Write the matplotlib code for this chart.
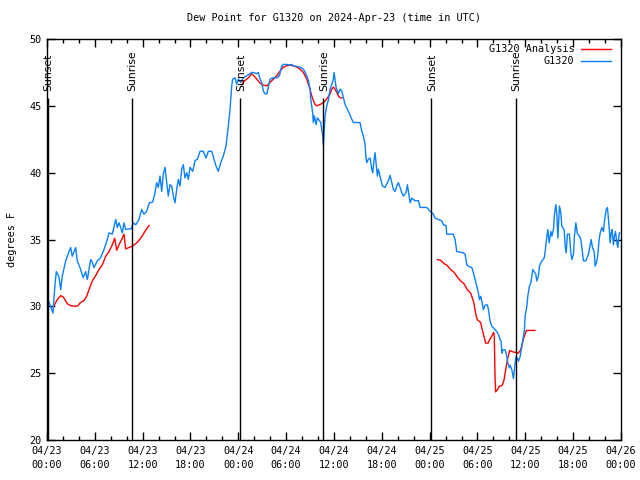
import matplotlib
matplotlib.use("Agg")
import matplotlib.pyplot as plt
from matplotlib.lines import Line2D

# hours since 2024-04-23 00:00 UTC, dew point in degrees F
obs_hours = [0.13, 0.75, 1.0, 1.17, 1.5, 1.72, 1.92, 2.35, 2.76, 2.97, 3.17, 3.6, 3.8, 4.14, 4.55,
             4.85, 5.06, 5.48, 5.68, 5.9, 6.31, 6.74, 7.15, 7.57, 7.78, 8.19, 8.62, 8.82, 9.03, 9.25,
             9.45, 9.66, 9.87, 10.29, 10.58, 10.83, 11.13, 11.54, 11.88, 12.17, 12.5, 12.84, 13.26,
             13.55, 13.76, 13.96, 14.18, 14.39, 14.59, 14.81, 15.02, 15.22, 15.43, 15.65, 15.85,
             16.06, 16.27, 16.47, 16.69, 16.9, 17.1, 17.31, 17.53, 17.73, 17.94, 18.28, 18.57, 18.86,
             19.2, 19.61, 19.95, 20.24, 20.67, 20.95, 21.2, 21.49, 21.8, 22.12, 22.46, 22.75, 22.96,
             23.17, 23.3, 23.59, 23.8, 24.0, 24.3, 24.63, 25.06, 25.68, 25.89, 26.31, 26.51, 26.73,
             26.94, 27.14, 27.35, 27.57, 27.77, 27.98, 28.39, 28.82, 29.15, 29.45, 29.65, 30.08,
             30.4, 30.7, 30.9, 31.33, 31.74, 32.16, 32.58, 32.79, 33.0, 33.09, 33.34, 33.41, 33.54,
             33.75, 33.91, 34.17, 34.34, 34.47, 34.59, 34.67, 34.88, 35.09, 35.29, 35.51, 35.72,
             35.92, 36.01, 36.26, 36.55, 36.76, 36.98, 37.39, 37.8, 38.23, 38.43, 39.27, 39.49,
             39.69, 39.9, 39.99, 40.11, 40.31, 40.53, 40.74, 40.86, 41.03, 41.15, 41.28, 41.44,
             41.57, 41.87, 42.07, 42.41, 42.82, 43.04, 43.25, 43.45, 43.66, 43.88, 44.08, 44.29,
             44.5, 44.71, 45.04, 45.21, 45.38, 45.55, 45.76, 46.17, 46.59, 46.8, 47.64, 48.06,
             48.47, 48.68, 49.52, 49.72, 50.06, 50.14, 50.97, 51.19, 51.4, 52.23, 52.45, 52.66,
             52.86, 53.29, 53.49, 53.7, 53.91, 54.12, 54.24, 54.42, 54.67, 54.74, 54.96, 55.25,
             55.37, 55.58, 55.8, 56.0, 56.21, 56.42, 56.62, 56.84, 56.96, 57.05, 57.18, 57.47,
             57.68, 57.8, 58.0, 58.09, 58.31, 58.51, 58.72, 58.85, 59.01, 59.14, 59.35, 59.56,
             59.76, 59.89, 59.97, 60.19, 60.31, 60.51, 60.69, 60.94, 61.1, 61.32, 61.44, 61.64,
             61.77, 61.94, 62.2, 62.36, 62.52, 62.7, 62.82, 62.99, 63.2, 63.33, 63.53, 63.66,
             63.83, 63.95, 64.08, 64.28, 64.45, 64.58, 64.87, 65.0, 65.12, 65.28, 65.53, 65.71,
             65.83, 66.04, 66.16, 66.34, 66.54, 66.79, 66.96, 67.09, 67.29, 67.59, 67.72, 67.92,
             68.26, 68.42, 68.63, 68.76, 68.97, 69.1, 69.26, 69.39, 69.6, 69.8, 69.93, 70.14,
             70.3, 70.43, 70.56, 70.64, 70.77, 70.89, 71.05, 71.18, 71.31, 71.48, 71.61, 71.73, 71.81]
obs_dewpt = [30.5, 29.5, 31.6, 32.6, 32.2, 31.25, 32.25, 33.4, 34.1, 34.4, 33.75, 34.4, 33.4, 32.9, 32.15,
             32.6, 32.0, 33.5, 33.3, 32.9, 33.4, 33.65, 34.25, 35.0, 35.5, 35.4, 36.5, 35.9, 36.25, 35.9,
             35.5, 36.25, 35.75, 35.8, 35.8, 36.25, 36.1, 36.5, 37.25, 36.9, 37.1, 37.75, 37.8,
             38.5, 39.25, 38.9, 39.75, 38.6, 39.9, 40.4, 39.25, 38.25, 39.1, 39.0, 38.25,
             37.75, 38.75, 39.5, 39.0, 40.25, 40.6, 39.6, 40.0, 39.5, 40.4, 40.1, 40.9, 41.0,
             41.6, 41.6, 41.1, 41.6, 41.6, 41.0, 40.5, 40.1, 40.75, 41.25, 42.0, 43.5, 44.75,
             46.5, 47.0, 47.1, 46.6, 47.0, 46.75, 47.1, 47.25, 47.5, 47.5, 47.4, 47.5, 47.0,
             46.75, 46.1, 45.9, 45.9, 46.4, 47.0, 47.1, 47.1, 47.25, 48.0, 48.1, 48.1,
             48.05, 48.1, 48.0, 47.95, 47.9, 47.75, 47.25, 46.9, 46.25, 45.5, 44.4, 43.75, 44.25,
             43.6, 44.1, 43.9, 43.75, 43.25, 42.75, 42.1, 44.25, 45.0, 45.4, 46.25, 46.6,
             47.0, 47.5, 46.4, 45.9, 46.25, 46.1, 45.1, 44.6, 44.0, 43.75, 43.75, 43.1,
             42.75, 42.1, 41.25, 40.75, 41.0, 41.1, 40.25, 40.0, 41.0, 41.5, 40.75, 39.75,
             40.25, 39.5, 39.0, 38.9, 39.4, 39.8, 39.25, 38.75, 38.6, 39.0, 39.25, 38.9,
             38.5, 38.25, 38.5, 39.1, 38.4, 37.75, 38.1, 37.9, 37.9, 37.4, 37.4, 37.1,
             36.9, 36.6, 36.4, 36.1, 36.05, 35.4, 35.4, 35.0, 34.1, 34.0, 33.9, 33.1,
             33.0, 32.9, 32.5, 32.0, 31.5, 31.0, 30.5, 30.75, 30.0, 29.75, 30.1, 30.1,
             29.75, 28.9, 28.5, 28.4, 28.25, 28.1, 27.9, 27.5, 27.4, 26.5, 26.75, 26.75,
             26.25, 25.75, 25.4, 25.6, 25.25, 24.6, 25.75, 26.25, 26.1, 25.9, 26.25, 27.0,
             27.75, 28.25, 29.25, 30.0, 30.75, 31.5, 31.75, 32.75, 32.6, 32.4, 31.9, 32.25,
             33.0, 33.25, 33.5, 33.6, 34.25, 35.25, 35.75, 34.75, 35.6, 35.25, 35.75, 36.9,
             37.6, 36.9, 35.1, 37.5, 37.0, 36.0, 35.75, 34.5, 34.0, 35.4, 35.4, 34.0,
             33.5, 33.9, 35.25, 36.25, 35.4, 35.25, 35.0, 34.4, 33.4, 33.4, 33.6, 33.9,
             35.0, 34.4, 34.1, 33.0, 33.4, 33.9, 35.0, 35.5, 35.9, 35.6, 36.4, 37.25,
             37.4, 36.5, 35.5, 34.75, 35.5, 35.75, 34.6, 35.25, 35.6, 34.75, 34.4, 35.25, 35.5]

# analysis comes in three separate pieces
ana1_hours = [0.79, 1.29, 1.72, 2.05, 2.55, 2.97, 3.6, 3.89, 4.14, 4.64, 4.98, 5.27, 5.68, 6.11,
              6.52, 6.94, 7.37, 7.78, 8.19, 8.49, 8.75, 9.03, 9.45, 9.66, 9.87, 10.29, 10.83,
              11.25, 11.76, 12.08, 12.38, 12.8]
ana1_dewpt = [29.95, 30.5, 30.8, 30.7, 30.2, 30.05, 30.0, 30.05, 30.25, 30.45, 30.75, 31.25, 31.9, 32.3,
              32.75, 33.1, 33.75, 34.1, 34.6, 35.1, 34.2, 34.6, 35.1, 35.4, 34.3, 34.4, 34.55,
              34.75, 35.1, 35.4, 35.7, 36.05]
ana2_hours = [24.43, 24.84, 25.26, 25.68, 25.97, 26.31, 26.73, 27.14, 27.57, 27.98, 28.39, 28.82,
              29.23, 29.65, 30.08, 30.49, 30.9, 31.33, 31.74, 32.16, 32.58, 32.79, 33.0, 33.21,
              33.41, 33.63, 33.84, 34.25, 34.67, 35.09, 35.51, 35.72, 35.92, 36.14, 36.35, 36.55,
              36.76, 36.98]
ana2_dewpt = [46.6, 46.9, 47.1, 47.4, 47.25, 47.0, 46.7, 46.55, 46.5, 46.75, 47.0, 47.25,
              47.6, 47.9, 48.0, 48.05, 48.0, 47.9, 47.75, 47.5, 47.0, 46.6, 46.25, 45.75,
              45.4, 45.1, 45.0, 45.1, 45.25, 45.5, 45.9, 46.25, 46.4, 46.25, 46.0, 45.75,
              45.6, 45.6]
ana3_hours = [48.96, 49.37, 49.8, 50.21, 50.63, 51.05, 51.47, 51.88, 52.3, 52.71, 53.13, 53.43,
              53.55, 53.76, 53.97, 54.39, 54.6, 54.82, 55.02, 55.32, 55.52, 55.77, 56.02, 56.11,
              56.2, 56.27, 56.49, 56.7, 57.11, 57.33, 57.53, 57.75, 58.04, 58.38, 58.8, 59.13,
              59.42, 59.64, 59.85, 60.14, 60.89, 61.2]
ana3_dewpt = [33.5, 33.45, 33.2, 33.05, 32.75, 32.55, 32.2, 31.9, 31.7, 31.25, 31.0, 30.5,
              30.25, 29.5, 29.0, 28.8, 28.25, 27.75, 27.25, 27.25, 27.5, 27.75, 28.05, 27.75,
              24.75, 23.6, 23.75, 24.0, 24.1, 24.5, 25.25, 26.0, 26.7, 26.6, 26.55, 26.5,
              26.75, 27.25, 27.75, 28.2, 28.2, 28.2]

sun_hours = [0.16, 10.7, 24.26, 34.67, 48.22, 58.8]
sun_names = ["Sunset", "Sunrise", "Sunset", "Sunrise", "Sunset", "Sunrise"]

xtick_hours = list(range(0, 73, 6))
xtick_labels = ["04/23\n00:00", "04/23\n06:00", "04/23\n12:00", "04/23\n18:00",
                "04/24\n00:00", "04/24\n06:00", "04/24\n12:00", "04/24\n18:00",
                "04/25\n00:00", "04/25\n06:00", "04/25\n12:00", "04/25\n18:00",
                "04/26\n00:00"]

RED = "#ff0000"
BLUE = "#0a80ff"
MONO = "DejaVu Sans Mono"

fig = plt.figure(figsize=(6.4, 4.8), dpi=100)
ax = fig.add_axes([0.0734, 0.0833, 0.8969, 0.8354])

ax.plot(ana1_hours, ana1_dewpt, color=RED, lw=1.0)
ax.plot(ana2_hours, ana2_dewpt, color=RED, lw=1.0)
ax.plot(ana3_hours, ana3_dewpt, color=RED, lw=1.0)
ax.plot(obs_hours, obs_dewpt, color=BLUE, lw=1.0)

# sunrise / sunset markers
ax.vlines(sun_hours, 20, 45.6, color="black", lw=1.0)
for h, name in zip(sun_hours, sun_names):
    ax.text(h + 0.05, 46.1, name, rotation=90, ha="center", va="bottom",
            fontsize=7.8, family="DejaVu Sans")

ax.set_xlim(0, 72)
ax.set_ylim(20, 50)
ax.set_xticks(xtick_hours)
ax.set_xticklabels(xtick_labels, family=MONO, fontsize=7.3, linespacing=1.55)
ax.set_xticks(range(0, 73, 2), minor=True)
ax.set_yticks(range(20, 51, 5))
ax.set_yticklabels([str(v) for v in range(20, 51, 5)], family=MONO, fontsize=7.3)
ax.tick_params(which="both", direction="in", top=True, right=True, width=1.0)
ax.tick_params(which="major", length=6)
ax.tick_params(which="minor", length=3)
ax.tick_params(axis="x", pad=4)
ax.tick_params(axis="y", pad=4)
for s in ax.spines.values():
    s.set_linewidth(1.0)

ax.set_title("Dew Point for G1320 on 2024-Apr-23 (time in UTC)", family=MONO,
             fontsize=7.3, pad=13)
ax.set_ylabel("degrees F", family=MONO, fontsize=7.3, labelpad=9)

# gnuplot style key: right-justified text, sample line to its right
key = [("G1320 Analysis", RED), ("G1320", BLUE)]
for i, (label, col) in enumerate(key):
    yy = 0.974 - i * 0.03
    ax.text(0.919, yy, label, transform=ax.transAxes, ha="right", va="center",
            family=MONO, fontsize=7.3)
    ax.add_line(Line2D([0.93, 0.982], [yy, yy], transform=ax.transAxes, color=col, lw=1.0))

fig.savefig("out.png", dpi=100)
